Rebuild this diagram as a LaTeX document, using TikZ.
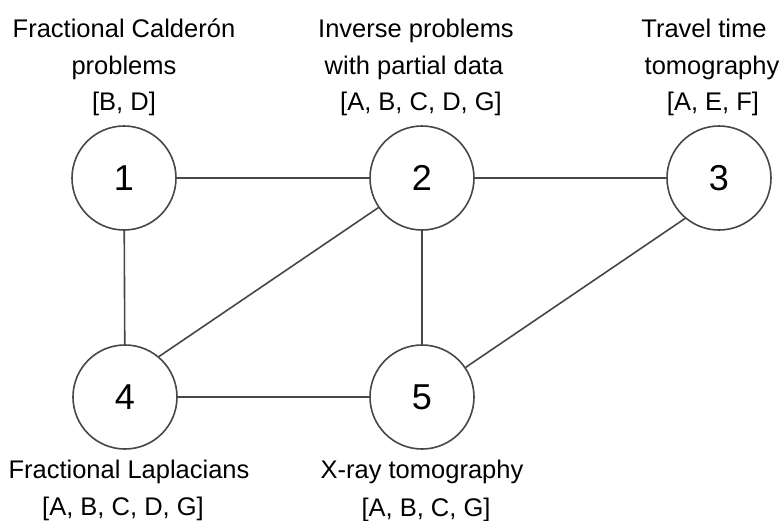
\documentclass[tikz,border=0pt]{standalone}
\usepackage{fontspec}
\setmainfont{Liberation Sans}
\begin{document}
\begin{tikzpicture}[x=1pt,y=-1pt,
  vert/.style={circle,draw=black!72,line width=1.6pt,minimum size=104pt,inner sep=0pt,font=\fontsize{36}{40}\selectfont,fill=white},
  lbl/.style={anchor=base,inner sep=0pt,font=\fontsize{25.5}{30}\selectfont},
  edge/.style={draw=black!72,line width=1.6pt}]
\useasboundingbox (0,0) rectangle (782,520);
\node[vert] (n1) at (124,178) {1};
\node[vert] (n2) at (422,178) {2};
\node[vert] (n3) at (719,178) {3};
\node[vert] (n4) at (125,397) {4};
\node[vert] (n5) at (422,397) {5};
\draw[edge] (n1) -- (n2);
\draw[edge] (n2) -- (n3);
\draw[edge] (n1) -- (n4);
\draw[edge] (n4.50) -- (n2);
\draw[edge] (n2) -- (n5);
\draw[edge] (n5) -- (n3.230);
\draw[edge] (n4) -- (n5);
\node[lbl] (t1a) at (124,37) {Fractional Calderón};
\node[lbl] (t1b) at (124,74) {problems};
\node[lbl] (t1c) at (124,110) {[B, D]};
\node[lbl] (t2a) at (416,37) {Inverse problems};
\node[lbl] (t2b) at (414,74) {with partial data};
\node[lbl] (t2c) at (421,110) {[A, B, C, D, G]};
\node[lbl] (t3a) at (704,37) {Travel time};
\node[lbl] (t3b) at (712,74) {tomography};
\node[lbl] (t3c) at (713,110) {[A, E, F]};
\node[lbl] (t4a) at (129,478) {Fractional Laplacians};
\node[lbl] (t4b) at (123,515) {[A, B, C, D, G]};
\node[lbl] (t5a) at (422,478) {X-ray tomography};
\node[lbl] (t5b) at (426,516) {[A, B, C, G]};
\end{tikzpicture}
\end{document}
